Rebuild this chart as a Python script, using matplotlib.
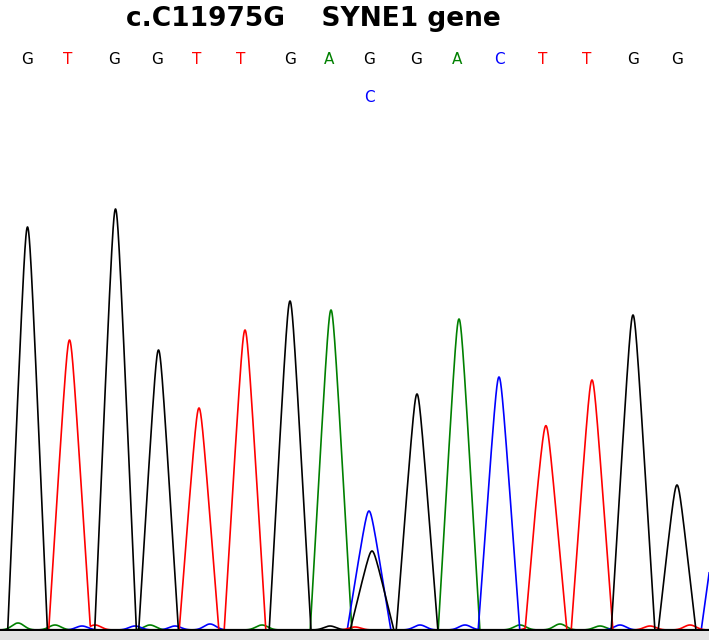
import numpy as np
import matplotlib
matplotlib.use("Agg")
import matplotlib.pyplot as plt

# ---- data ----
bases = ["G", "T", "G", "G", "T", "T", "G", "A", "G", "G", "A", "C", "T", "T", "G", "G"]
base_pos = [27, 68, 114, 157, 197, 241, 290, 329, 369, 416, 457, 499, 543, 587, 633, 677]
secondary_base = "C"
secondary_idx = 8

# main peaks: position, height, half-width at base, channel
peak_pos = [27.5, 69.5, 115.5, 158.5, 199, 245, 290, 331, 369, 372, 417, 459, 499, 546, 592, 633, 677, 721]
peak_height = [403, 290, 421, 280, 222, 300, 329, 320, 119, 79, 236, 311, 253, 203, 250, 315, 145, 125]
peak_halfwidth = [20, 21, 21, 20, 20, 21, 21, 21, 22, 22, 21, 21, 21, 21, 21, 22, 19, 20]
peak_chan = ["G", "T", "G", "G", "T", "T", "G", "A", "C", "G", "G", "A", "C", "T", "T", "G", "G", "C"]

# small baseline bumps
noise_pos = [18, 55, 82, 95, 135, 150, 175, 210, 262, 330, 355, 420, 465, 520, 535, 560, 600, 620, 650, 690]
noise_height = [7, 5, 4, 5, 4, 5, 4, 6, 5, 4, 3, 5, 5, 5, 7, 6, 4, 5, 4, 5]
noise_chan = ["A", "A", "C", "T", "C", "A", "C", "C", "A", "G", "T", "C", "C", "A", "T", "A", "A", "C", "T", "T"]

title = "c.C11975G    SYNE1 gene"
colors = {"G": "black", "T": "#ff0000", "A": "#008000", "C": "#0000ff"}

# ---- figure ----
W, H = 709, 640
fig = plt.figure(figsize=(W / 100, H / 100), dpi=100)
fig.patch.set_facecolor("white")
band = fig.add_axes([0, 0, 1, 8 / H])
band.set_facecolor("#e3e3e3")
band.set_xticks([]); band.set_yticks([])
for s in band.spines.values():
    s.set_visible(False)

ax = fig.add_axes([0, 8 / H, 1, 1 - 8 / H])
ax.set_xlim(0, W)
ax.set_ylim(-2, H - 10)
ax.axis("off")

x = np.linspace(-40, W + 40, 4000)
r = 3.0  # top rounding

order = ["A", "C", "T", "G"]
for ch in order:
    y = np.zeros_like(x)
    for p, h, w, c in zip(peak_pos, peak_height, peak_halfwidth, peak_chan):
        if c == ch:
            d = np.abs(x - p)
            y += h * np.clip(1 - (np.sqrt(d ** 2 + r ** 2) - r) / (w - r), 0, None)
    for p, h, c in zip(noise_pos, noise_height, noise_chan):
        if c == ch:
            y += h * np.exp(-0.5 * ((x - p) / 6) ** 2)
    ax.plot(x, y, color=colors[ch], lw=1.2, solid_joinstyle="round")

ax.axhline(0, color="black", lw=1.6)

for b, p in zip(bases, base_pos):
    ax.text(p, 570, b, color=colors[b], ha="center", va="center", fontsize=11, family="DejaVu Sans")
ax.text(base_pos[secondary_idx], 533, secondary_base, color=colors[secondary_base],
        ha="center", va="center", fontsize=11, family="DejaVu Sans")

fig.text(313 / W, 1 - 19 / H, title, ha="center", va="center", fontsize=19,
         fontweight="bold", family="DejaVu Sans")

fig.savefig("out.png", dpi=100)
